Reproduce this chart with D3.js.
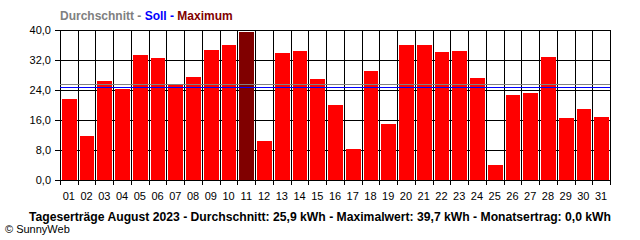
<!DOCTYPE html>
<html lang="de">
<head>
    <meta charset="UTF-8">
    <title>Tageserträge August 2023</title>
    <script src="https://d3js.org/d3.v7.min.js"></script>
    <style>
        body { margin: 0; background: #fff; }
        text { font-family: "Liberation Sans", Arial, sans-serif; }
    </style>
</head>
<body>
    <svg width="640" height="240"></svg>

    <script>
        // Tagesertraege in kWh
        const days = ["01","02","03","04","05","06","07","08","09","10","11","12","13","14","15","16",
                      "17","18","19","20","21","22","23","24","25","26","27","28","29","30","31"];
        const yields = [21.6, 11.8, 26.4, 24.3, 33.4, 32.6, 25.6, 27.5, 34.8, 36.1, 39.5, 10.5, 33.9, 34.5, 26.9, 20.0,
                        8.3, 29.1, 14.9, 36.0, 36.0, 34.1, 34.4, 27.2, 4.0, 22.7, 23.2, 32.8, 16.6, 18.9, 16.9];
        const yTicks = [0, 8, 16, 24, 32, 40];
        const average = 25.6;   // Durchschnitt (graue Linie)
        const target = 24.8;    // Soll (blaue Linie)
        const maxIndex = yields.indexOf(d3.max(yields));

        const margin = { top: 30, right: 30, bottom: 60, left: 60 },
              width = 640 - margin.left - margin.right,
              height = 240 - margin.top - margin.bottom;

        const svg = d3.select("svg");
        const g = svg.append("g")
                     .attr("transform", `translate(${margin.left},${margin.top})`);

        const x = d3.scaleBand()
                    .domain(days)
                    .range([0, width]);

        const y = d3.scaleLinear()
                    .domain([0, 40])
                    .range([height, 0]);

        const fmt = d => d3.format(".1f")(d).replace(".", ",");

        // horizontal grid + y ticks
        g.selectAll("line.hgrid")
         .data(yTicks)
         .enter()
         .append("line")
         .attr("class", "hgrid")
         .attr("x1", -5)
         .attr("x2", width)
         .attr("y1", d => Math.round(y(d)) + 0.5)
         .attr("y2", d => Math.round(y(d)) + 0.5)
         .attr("stroke", "#000");

        g.selectAll("text.ylab")
         .data(yTicks)
         .enter()
         .append("text")
         .attr("class", "ylab")
         .attr("x", -9)
         .attr("y", d => Math.round(y(d)) + 4)
         .attr("text-anchor", "end")
         .style("font-size", "11px")
         .text(fmt);

        // vertical grid at band boundaries, with ticks below the axis
        const bounds = days.map(d => Math.round(x(d))).concat([Math.round(width)]);
        g.selectAll("line.vgrid")
         .data(bounds)
         .enter()
         .append("line")
         .attr("class", "vgrid")
         .attr("x1", d => d + 0.5)
         .attr("x2", d => d + 0.5)
         .attr("y1", 0)
         .attr("y2", height + 5)
         .attr("stroke", "#000");

        // bars
        g.selectAll("rect.bar")
         .data(yields)
         .enter()
         .append("rect")
         .attr("class", "bar")
         .attr("x", (d, i) => bounds[i] + 2)
         .attr("width", (d, i) => bounds[i + 1] - bounds[i] - 3)
         .attr("y", d => Math.round(y(d)))
         .attr("height", d => height - Math.round(y(d)))
         .attr("fill", (d, i) => i === maxIndex ? "#800000" : "#ff0000");

        // x axis line
        g.append("line")
         .attr("x1", 0)
         .attr("x2", width + 1)
         .attr("y1", height + 0.5)
         .attr("y2", height + 0.5)
         .attr("stroke", "#000");

        // Durchschnitt + Soll
        g.append("line")
         .attr("x1", 0).attr("x2", width)
         .attr("y1", Math.round(y(average)) + 0.5)
         .attr("y2", Math.round(y(average)) + 0.5)
         .attr("stroke", "#808080")
         .attr("stroke-width", 1.2);

        g.append("line")
         .attr("x1", 0).attr("x2", width)
         .attr("y1", Math.round(y(target)) + 0.5)
         .attr("y2", Math.round(y(target)) + 0.5)
         .attr("stroke", "#0000ff")
         .attr("stroke-width", 1.2);

        // x labels
        g.selectAll("text.xlab")
         .data(days)
         .enter()
         .append("text")
         .attr("class", "xlab")
         .attr("x", d => x(d) + x.bandwidth() / 2)
         .attr("y", height + 20)
         .attr("text-anchor", "middle")
         .style("font-size", "11px")
         .text(d => d);

        // legend on top
        const legend = svg.append("text")
                          .attr("x", 60)
                          .attr("y", 20)
                          .style("font-size", "12px")
                          .style("font-weight", "bold");
        legend.append("tspan").attr("fill", "#808080").text("Durchschnitt - ");
        legend.append("tspan").attr("fill", "#0000ff").text("Soll - ");
        legend.append("tspan").attr("fill", "#800000").text("Maximum");

        // footer
        svg.append("text")
           .attr("x", 29)
           .attr("y", 221)
           .attr("textLength", 582)
           .attr("lengthAdjust", "spacingAndGlyphs")
           .style("font-size", "12px")
           .style("font-weight", "bold")
           .text("Tageserträge August 2023 - Durchschnitt: 25,9 kWh - Maximalwert: 39,7 kWh - Monatsertrag: 0,0 kWh");

        svg.append("text")
           .attr("x", 5)
           .attr("y", 233)
           .style("font-size", "11px")
           .text("© SunnyWeb");
    </script>
</body>
</html>
